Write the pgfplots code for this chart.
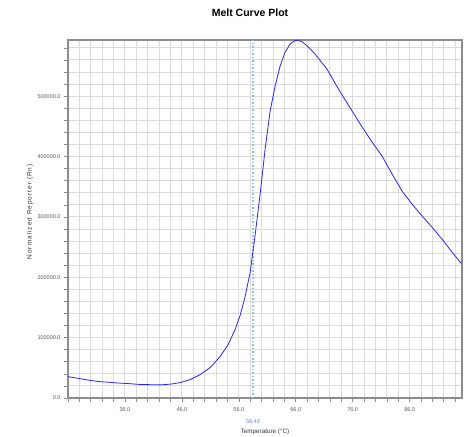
\documentclass[border=0pt]{standalone}
\usepackage{pgfplots}
\pgfplotsset{compat=1.18}
\usepackage{fontspec}
\setmainfont{Liberation Sans}
\newfontfamily\spaced[LetterSpace=15]{Liberation Sans}

\definecolor{curve}{RGB}{40,40,240}
\definecolor{gridc}{RGB}{220,220,220}
\definecolor{framec}{RGB}{140,140,140}
\definecolor{markc}{RGB}{150,190,235}
\definecolor{marktext}{RGB}{90,140,210}

\begin{document}
\begin{tikzpicture}
\path[use as bounding box] (-68pt,-38pt) rectangle (397pt,398pt);
\begin{axis}[
  at={(0pt,0pt)}, anchor=south west,
  scale only axis, width=394pt, height=358pt,
  xmin=26, xmax=95.2, ymin=0, ymax=593000,
  xtick={36,46,...,86}, minor xtick={26,28,...,94},
  ytick={0,100000,...,500000}, minor ytick={0,20000,...,580000},
  xtick pos=bottom, ytick pos=left,
  grid=both,
  major grid style={gridc, line width=0.9pt},
  minor grid style={gridc, line width=0.9pt},
  axis line style={framec, line width=1.3pt},
  tick align=outside, major tick length=4pt, minor tick length=4pt,
  tick style={framec, line width=0.6pt},
  scaled ticks=false,
  clip mode=individual,
  ticklabel style={font=\fontsize{5.5}{6}\selectfont, text=black!65},
  xticklabel style={yshift=-2pt},
  title={Melt Curve Plot},
  title style={at={(axis description cs:0.462,1)}, anchor=base, yshift=17pt,
    font=\bfseries\fontsize{10.5}{12}\selectfont},
  xlabel={Temperature (°C)},
  xlabel style={at={(axis description cs:0.5,0)}, anchor=center, yshift=-34pt,
    font=\fontsize{6.3}{7}\selectfont, text=black!80},
  ylabel={Normalized Reporter (Rn)},
  ylabel style={at={(axis description cs:-0.0965,0.52)}, anchor=center,
    font=\spaced\fontsize{6.5}{7}\selectfont, text=black!80},
  /pgf/number format/fixed,
  /pgf/number format/fixed zerofill,
  /pgf/number format/precision=1,
  /pgf/number format/1000 sep={},
  /pgf/number format/assume math mode=true,
]
\addplot[markc, line width=1.5pt, dotted] coordinates {(58.48,0) (58.48,593000)};
\addplot[curve, line width=0.8pt] coordinates {
(26.00,35400) (28.11,32000) (29.87,29200) (31.62,27100) (33.38,25900)
(35.13,24600) (36.89,23700) (38.65,22400) (40.40,22100) (42.16,21700)
(43.93,22900) (45.68,25400) (47.44,30400) (49.20,38700) (50.96,50300)
(52.71,68600) (54.12,88500) (55.35,113400) (56.23,136600) (57.11,168100)
(57.99,208000) (58.86,269400) (59.74,337400) (60.62,412100) (61.50,475200)
(62.38,516700) (63.26,549900) (64.14,573100) (65.02,586400) (65.89,592200)
(66.42,592500) (67.12,590000) (67.85,584500) (68.70,576800) (69.71,566000)
(71.47,545000) (73.50,511700) (75.91,475200) (77.67,448600) (79.42,423700)
(81.18,400500) (82.94,370600) (84.70,342400) (86.46,320800) (88.39,299300)
(89.96,282700) (91.73,262700) (93.49,241200) (95.07,222900)
};
\node[text=marktext, font=\fontsize{5.5}{6}\selectfont] at (axis cs:58.48,0) [yshift=-24pt] {58.48};
\end{axis}
\end{tikzpicture}
\end{document}
